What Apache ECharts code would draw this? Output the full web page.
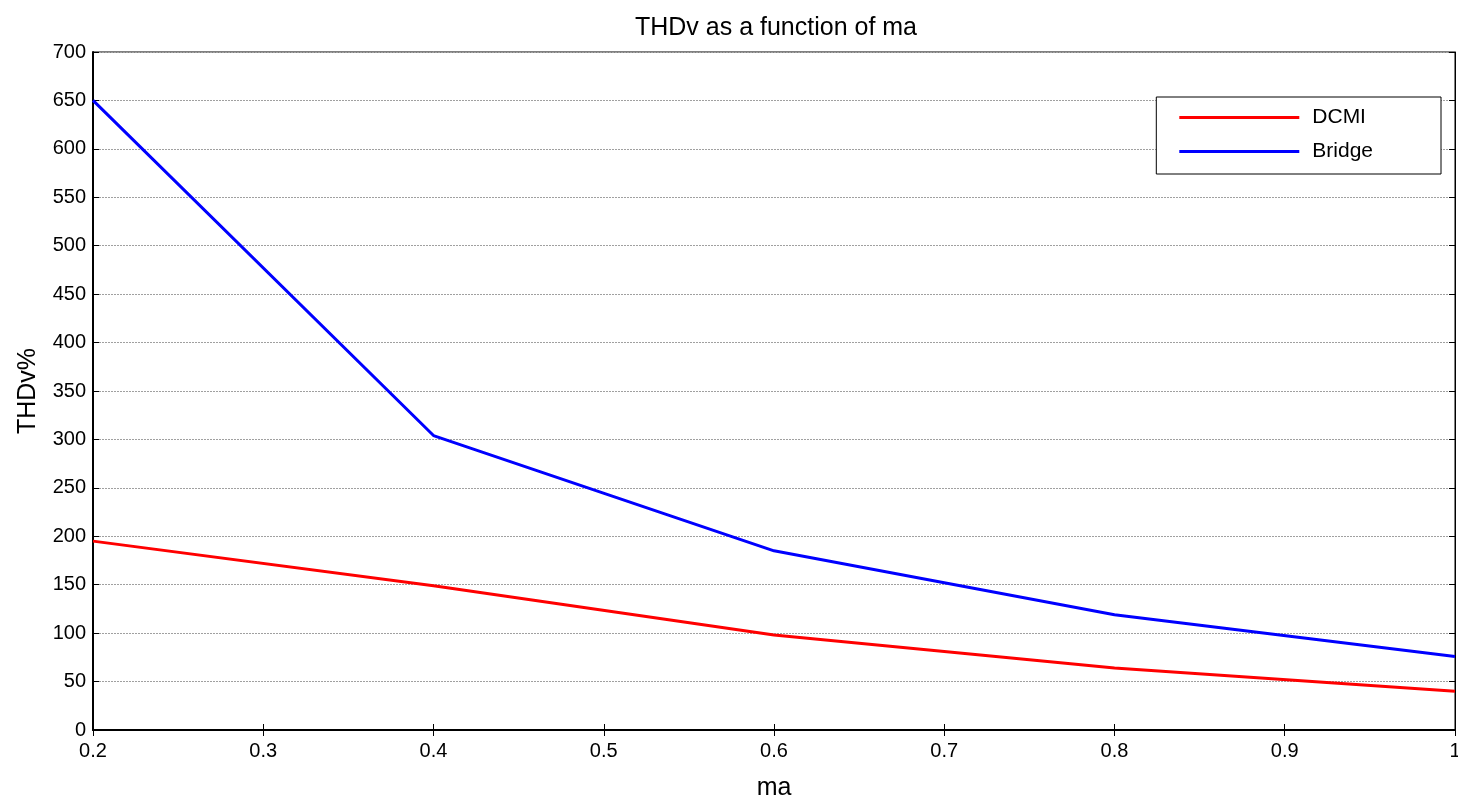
<!DOCTYPE html>
<html>
<head>
<meta charset="utf-8">
<script src="https://cdn.jsdelivr.net/npm/echarts@6/dist/echarts.min.js"></script>
<style>
  html, body { margin: 0; padding: 0; background: #fff; }
  #chart { width: 1458px; height: 799px; }
</style>
</head>
<body>
<div id="chart"></div>
<script>
var ma = [0.2, 0.4, 0.6, 0.8, 1.0];
var dcmi = [195, 149, 98, 64, 40];
var bridge = [650, 304, 185, 119, 76];

var chart = echarts.init(document.getElementById('chart'));

function pairs(xs, ys) {
    return xs.map(function (x, i) { return [x, ys[i]]; });
}

var font = 'Liberation Sans, Arial, sans-serif';

var option = {
    backgroundColor: '#fff',
    animation: false,
    title: {
        text: 'THDv as a function of ma',
        left: 771,
        top: 11,
        textAlign: 'center',
        textStyle: { fontFamily: font, fontWeight: 'normal', fontSize: 25, color: '#000' }
    },
    legend: {
        right: 17,
        top: 97,
        orient: 'vertical',
        icon: 'rect',
        itemWidth: 120,
        itemHeight: 3,
        itemGap: 13,
        padding: [10, 68, 12, 23],
        backgroundColor: '#fff',
        borderColor: '#000',
        borderWidth: 1,
        borderRadius: 0,
        textStyle: { fontFamily: font, fontSize: 21, color: '#000', padding: [0, 0, 0, 8] },
        data: ['DCMI', 'Bridge']
    },
    grid: {
        left: 93,
        right: 3,
        top: 52,
        bottom: 69,
        containLabel: false,
        outerBoundsMode: 'none',
        show: true,
        borderColor: '#000',
        borderWidth: 1,
        backgroundColor: '#fff'
    },
    xAxis: [{
        type: 'value',
        min: 0.2,
        max: 1,
        interval: 0.1,
        name: 'ma',
        nameLocation: 'middle',
        nameGap: 46,
        nameTextStyle: { fontFamily: font, fontSize: 25, color: '#000' },
        axisLine: { show: true, onZero: false, lineStyle: { color: '#000', width: 2 } },
        axisTick: { inside: true, length: 6, lineStyle: { color: '#000' } },
        axisLabel: {
            fontFamily: font, fontSize: 20, color: '#000', margin: 11,
            formatter: function (v) { return v === 1 ? '1' : v.toFixed(1); }
        },
        splitLine: { show: false }
    }, {
        type: 'value',
        position: 'top',
        min: 0.2,
        max: 1,
        interval: 0.1,
        axisLine: { show: true, lineStyle: { color: '#000', width: 1 } },
        axisTick: { inside: true, length: 6, lineStyle: { color: '#000' } },
        axisLabel: { show: false },
        splitLine: { show: false }
    }],
    yAxis: [{
        type: 'value',
        min: 0,
        max: 700,
        interval: 50,
        name: 'THDv%',
        nameLocation: 'middle',
        nameGap: 52,
        nameTextStyle: { fontFamily: font, fontSize: 25, color: '#000' },
        axisLine: { show: true, lineStyle: { color: '#000', width: 2 } },
        axisTick: { show: true, inside: true, length: 6, lineStyle: { color: '#000' } },
        axisLabel: { fontFamily: font, fontSize: 20, color: '#000', margin: 7 },
        splitLine: { show: true, lineStyle: { color: '#a0a0a0', type: [2, 1], width: 1 } }
    }, {
        type: 'value',
        position: 'right',
        min: 0,
        max: 700,
        interval: 50,
        axisLine: { show: true, lineStyle: { color: '#000', width: 1 } },
        axisTick: { show: true, inside: true, length: 6, lineStyle: { color: '#000' } },
        axisLabel: { show: false },
        splitLine: { show: false }
    }],
    series: [{
        name: 'DCMI',
        type: 'line',
        data: pairs(ma, dcmi),
        symbol: 'none',
        color: '#ff0000',
        lineStyle: { color: '#ff0000', width: 3 }
    }, {
        name: 'Bridge',
        type: 'line',
        data: pairs(ma, bridge),
        symbol: 'none',
        color: '#0000ff',
        lineStyle: { color: '#0000ff', width: 3 }
    }]
};

chart.setOption(option);

window.onresize = function () {
    chart.resize();
};
</script>
</body>
</html>
